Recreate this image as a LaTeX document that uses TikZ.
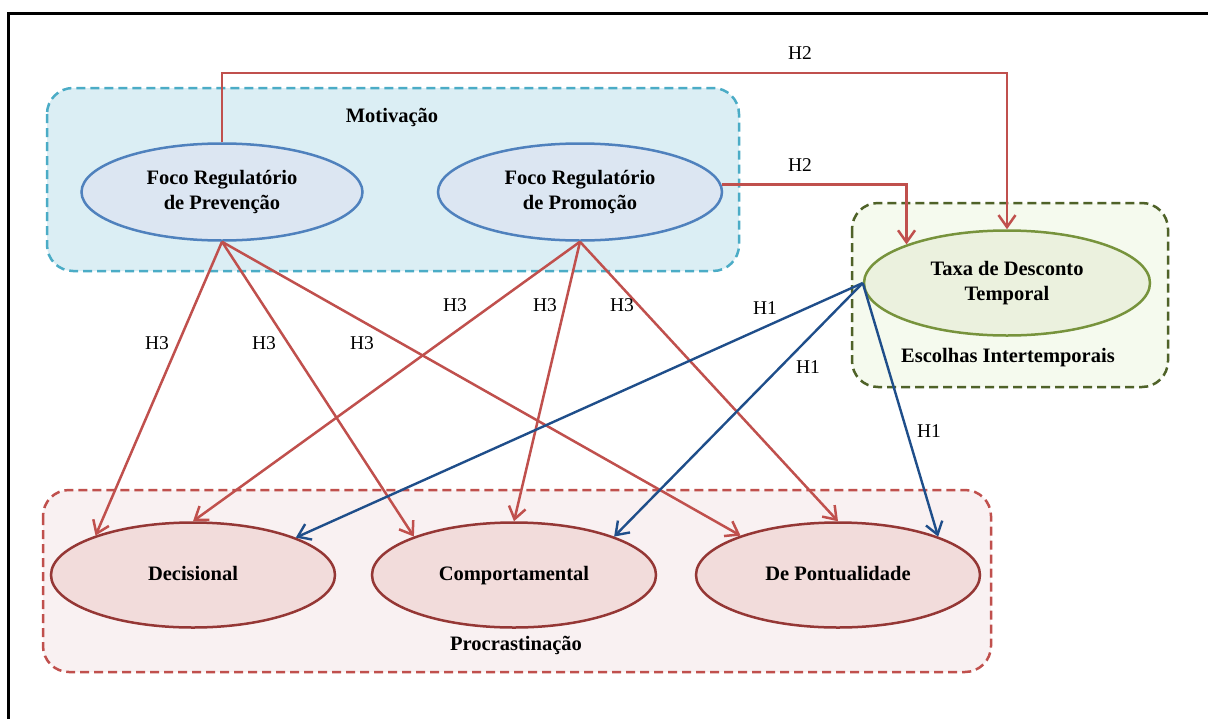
\documentclass[tikz,border=0pt]{standalone}
\usepackage{fontspec}
\setmainfont{Liberation Serif}
\usetikzlibrary{arrows.meta,shapes.geometric}

\definecolor{motfill}{HTML}{DBEEF4}
\definecolor{motline}{HTML}{4BACC6}
\definecolor{bluefill}{HTML}{DCE6F2}
\definecolor{blueline}{HTML}{4F81BD}
\definecolor{escfill}{HTML}{F5FAEE}
\definecolor{escline}{HTML}{4F6228}
\definecolor{greenfill}{HTML}{EBF1DE}
\definecolor{greenline}{HTML}{77933C}
\definecolor{profill}{HTML}{F9F1F2}
\definecolor{proline}{HTML}{C0504D}
\definecolor{redfill}{HTML}{F2DCDB}
\definecolor{redline}{HTML}{953735}
\definecolor{redarrow}{HTML}{C0504D}
\definecolor{bluearrow}{HTML}{1F4E8A}

\tikzset{
  groupbox/.style={rounded corners=26pt, line width=2.5pt, dash pattern=on 9pt off 5pt},
  construct/.style={ellipse, line width=2.5pt, inner sep=0pt, align=center,
    minimum width=284pt, minimum height=100pt,
    font=\fontsize{20.5}{25}\selectfont\bfseries},
  oneline/.style={text height=14pt, text depth=4pt},
  boxlabel/.style={font=\fontsize{20.5}{25}\selectfont\bfseries},
  hyplabel/.style={font=\fontsize{19.5}{22}\selectfont},
  redlink/.style={draw=redarrow, line width=2.5pt, -{Straight Barb[length=12pt,width=17pt]}},
  bluelink/.style={draw=bluearrow, line width=2.4pt, -{Straight Barb[length=12pt,width=17pt]}},
}

\begin{document}
\begin{tikzpicture}[x=1pt,y=-1pt]
\useasboundingbox (0,0) rectangle (1208,718);
\clip (0,0) rectangle (1208,718);
\fill[white] (0,0) rectangle (1208,718);

% outer frame
\draw[line width=3pt] (8,740) -- (8,13.5) -- (1230,13.5);

% group boxes
\draw[groupbox, draw=motline, fill=motfill] (47,88) rectangle (739,271);
\draw[groupbox, draw=escline, fill=escfill] (852,203) rectangle (1168,387);
\draw[groupbox, draw=proline, fill=profill] (43,490) rectangle (991,672);

\node[boxlabel] (motlbl) at (392,117) {Motivação};
\node[boxlabel] (esclbl) at (1008,358) {Escolhas Intertemporais};
\node[boxlabel] (prolbl) at (516,645) {Procrastinação};

% constructs
\node[construct, draw=blueline, fill=bluefill, minimum width=281pt, minimum height=97pt]
  (prev) at (222,192) {Foco Regulatório\\de Prevenção};
\node[construct, draw=blueline, fill=bluefill, minimum width=284pt, minimum height=97pt]
  (prom) at (580,192) {Foco Regulatório\\de Promoção};
\node[construct, draw=greenline, fill=greenfill, minimum width=286pt, minimum height=105pt]
  (taxa) at (1007,283) {Taxa de Desconto\\Temporal};
\node[construct, oneline, draw=redline, fill=redfill, minimum height=105pt]
  (dec) at (193,575) {Decisional};
\node[construct, oneline, draw=redline, fill=redfill, minimum height=105pt]
  (comp) at (514,575) {Comportamental};
\node[construct, oneline, draw=redline, fill=redfill, minimum height=105pt]
  (pont) at (838,575) {De Pontualidade};

% H2 links
\coordinate (h2turn) at (1007,73);
\draw[redlink] (prev.north) |- (h2turn) -- (taxa.north);
\draw[redlink] (prom.3) -| (taxa.159.6);
\node[hyplabel] (h2a) at (800,53) {H2};
\node[hyplabel] (h2b) at (800,165) {H2};

% H3 links
\draw[redlink] (prev.south) -- (dec.158.8);
\draw[redlink] (prev.south) -- (comp.159.6);
\draw[redlink] (prev.south) -- (pont.158.8);
\draw[redlink] (prom.south) -- (dec.north);
\draw[redlink] (prom.south) -- (comp.north);
\draw[redlink] (prom.south) -- (pont.north);
\node[hyplabel] (h3a) at (157,343) {H3};
\node[hyplabel] (h3b) at (264,343) {H3};
\node[hyplabel] (h3c) at (362,343) {H3};
\node[hyplabel] (h3d) at (455,305) {H3};
\node[hyplabel] (h3e) at (545,305) {H3};
\node[hyplabel] (h3f) at (622,305) {H3};

% H1 links
\draw[bluelink] (taxa.west) -- (dec.20.8);
\draw[bluelink] (taxa.west) -- (comp.21);
\draw[bluelink] (taxa.west) -- (pont.21.4);
\node[hyplabel] (h1a) at (765,308) {H1};
\node[hyplabel] (h1b) at (808,367) {H1};
\node[hyplabel] (h1c) at (929,431) {H1};
\end{tikzpicture}
\end{document}
